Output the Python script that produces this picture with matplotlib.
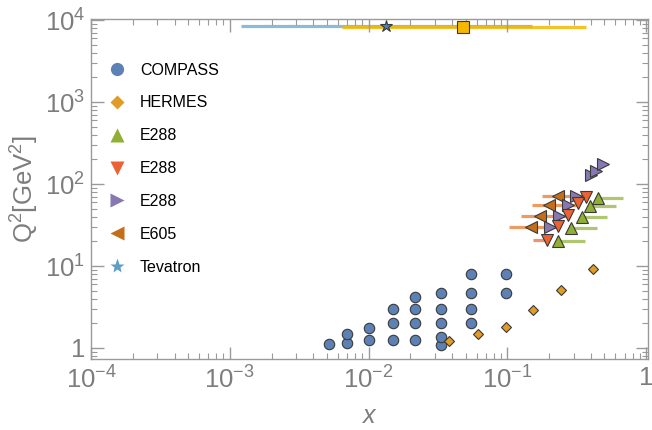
import matplotlib
matplotlib.use('Agg')
import matplotlib.pyplot as plt
from matplotlib.lines import Line2D
from matplotlib.ticker import FixedLocator, FixedFormatter, LogLocator, NullFormatter

# Datos (x, Q^2 en GeV^2)
compass_x = [0.0052, 0.0070, 0.0070, 0.0100, 0.0100, 0.0150, 0.0150, 0.0150,
             0.0217, 0.0217, 0.0217, 0.0217, 0.033, 0.033, 0.033, 0.033, 0.033,
             0.055, 0.055, 0.055, 0.055, 0.097, 0.097]
compass_q2 = [1.12, 1.14, 1.48, 1.24, 1.77, 1.24, 2.0, 2.96,
              1.24, 2.0, 2.96, 4.22, 1.09, 1.35, 2.0, 2.96, 4.73,
              2.0, 2.96, 4.73, 8.0, 4.73, 8.0]

hermes_x = [0.038, 0.0615, 0.097, 0.152, 0.243, 0.416]
hermes_q2 = [1.21, 1.48, 1.79, 2.88, 5.14, 9.1]

# E288 (triángulo hacia arriba, verde)
e288_up_x = [0.452, 0.394, 0.342, 0.287, 0.233]
e288_up_q2 = [68, 54.4, 39.3, 28.8, 20.4]
e288_up_xmax = [0.684, 0.601, 0.518, 0.444, 0.362]

# E288 (triángulo hacia abajo, rojo)
e288_dn_x = [0.366, 0.321, 0.275, 0.233, 0.192]
e288_dn_q2 = [69, 58.2, 41.9, 30.7, 20.8]
e288_dn_xmin = [0.366, 0.321, 0.275, 0.233, 0.154]

# E288 (triángulo hacia la derecha, morado)
e288_r_x = [0.310, 0.275, 0.237, 0.203, 0.400, 0.434, 0.491]
e288_r_q2 = [71, 55.5, 40.7, 29.6, 129, 145, 175]

# E605 (triángulo hacia la izquierda)
e605_x = [0.230, 0.200, 0.172, 0.147]
e605_q2 = [71, 55.5, 40.7, 29.6]
e605_xmin = [0.177, 0.150, 0.125, 0.102]

# Tevatron y el punto cuadrado de arriba
tev_x, tev_q2, tev_xmin, tev_xmax = [0.0134], [8450], [0.0012], [0.151]
sq_x, sq_q2, sq_xmin, sq_xmax = [0.0477], [8150], [0.00643], [0.369]

xticks = [1e-4, 1e-3, 1e-2, 1e-1, 1]
xticklabels = ['$10^{-4}$', '$10^{-3}$', '$10^{-2}$', '$10^{-1}$', '1']
yticks = [1, 10, 100, 1000, 10000]
yticklabels = ['1', '$10^{1}$', '$10^{2}$', '$10^{3}$', '$10^{4}$']

# Colores estilo Mathematica
c_compass = '#5E81B5'
c_hermes = '#E09C24'
c_green = '#8FB032'
c_red = '#EB6235'
c_purple = '#8778B3'
c_e605 = '#C56E1A'
c_tev = '#5D9EC7'
c_sq = '#F5B800'
edge = '#3a3a3a'
gris = '#7d7d7d'

plt.rcParams['font.family'] = ['Liberation Sans', 'DejaVu Sans']
plt.rcParams['mathtext.fontset'] = 'custom'
plt.rcParams['mathtext.rm'] = 'Liberation Sans'
plt.rcParams['mathtext.it'] = 'Liberation Sans:italic'

fig = plt.figure(figsize=(6.52, 4.30), dpi=100)
ax = fig.add_axes([0.1396, 0.1651, 0.8543, 0.7907])
ax.set_xscale('log')
ax.set_yscale('log')
ax.set_xlim(1e-4, 1.03)
ax.set_ylim(0.734, 1.03e4)

# Barras horizontales (rango en x)
ax.hlines(tev_q2, tev_xmin, tev_xmax, colors=c_tev, lw=2.3, alpha=0.7, zorder=1)
ax.hlines(sq_q2, sq_xmin, sq_xmax, colors=c_sq, lw=2.3, alpha=0.85, zorder=1)
ax.hlines(e605_q2, e605_xmin, e288_dn_x[:4], colors='#E8823C', lw=2.3, alpha=0.8, zorder=1)
ax.hlines(e288_dn_q2, e288_dn_xmin, e288_dn_x, colors=c_red, lw=2.3, alpha=0.7, zorder=1)
ax.hlines(e288_up_q2, e288_up_x, e288_up_xmax, colors=c_green, lw=2.3, alpha=0.7, zorder=1)

# Puntos
kw = dict(ls='none', mec=edge, mew=0.8, zorder=3)
ax.plot(compass_x, compass_q2, marker='o', ms=7.5, mfc=c_compass, **kw)
ax.plot(hermes_x, hermes_q2, marker='D', ms=5.5, mfc=c_hermes, **kw)
ax.plot(e605_x, e605_q2, marker='<', ms=8, mfc=c_e605, **kw)
ax.plot(e288_r_x, e288_r_q2, marker='>', ms=8, mfc=c_purple, **kw)
ax.plot(e288_dn_x, e288_dn_q2, marker='v', ms=8, mfc=c_red, **kw)
ax.plot(e288_up_x, e288_up_q2, marker='^', ms=8, mfc=c_green, **kw)
ax.plot(tev_x, tev_q2, marker='*', ms=9, mfc='#4F82AE', **kw)
ax.plot(sq_x, sq_q2, marker='s', ms=8, mfc=c_sq, **kw)

# Ejes y marcas
ax.xaxis.set_major_locator(FixedLocator(xticks))
ax.xaxis.set_major_formatter(FixedFormatter(xticklabels))
ax.yaxis.set_major_locator(FixedLocator(yticks))
ax.yaxis.set_major_formatter(FixedFormatter(yticklabels))
for a in (ax.xaxis, ax.yaxis):
    a.set_minor_locator(LogLocator(base=10, subs=range(2, 10), numticks=20))
    a.set_minor_formatter(NullFormatter())
ax.tick_params(which='both', direction='in', top=True, right=True, color='#9a9a9a',
               labelcolor=gris, labelsize=18.5)
ax.tick_params(which='major', length=9, width=1)
ax.tick_params(which='minor', length=4.5, width=0.8)
ax.tick_params(axis='x', pad=5)
ax.tick_params(axis='y', pad=4)
for s in ax.spines.values():
    s.set_color('#9a9a9a')
    s.set_linewidth(1)

ax.set_xlabel('x', fontsize=18, style='italic', color=gris, labelpad=8)
ax.set_ylabel('Q$^2$[GeV$^2$]', fontsize=18.5, color=gris, labelpad=3)

# Leyenda
handles = [
    Line2D([], [], ls='none', marker='o', ms=9.5, mfc=c_compass, mec='none'),
    Line2D([], [], ls='none', marker='D', ms=7, mfc=c_hermes, mec='none'),
    Line2D([], [], ls='none', marker='^', ms=10.5, mfc=c_green, mec='none'),
    Line2D([], [], ls='none', marker='v', ms=10.5, mfc=c_red, mec='none'),
    Line2D([], [], ls='none', marker='>', ms=10.5, mfc=c_purple, mec='none'),
    Line2D([], [], ls='none', marker='<', ms=10.5, mfc=c_e605, mec='none'),
    Line2D([], [], ls='none', marker='*', ms=11, mfc=c_tev, mec='none'),
]
labels = ['COMPASS', 'HERMES', 'E288', 'E288', 'E288', 'E605', 'Tevatron']
ax.legend(handles, labels, loc='upper left', bbox_to_anchor=(0.0323, 0.872),
          frameon=False, fontsize=11.5, labelspacing=1.12, handlelength=1.0,
          handletextpad=0.94, borderpad=0, borderaxespad=0)

fig.savefig('out.png', dpi=100)
